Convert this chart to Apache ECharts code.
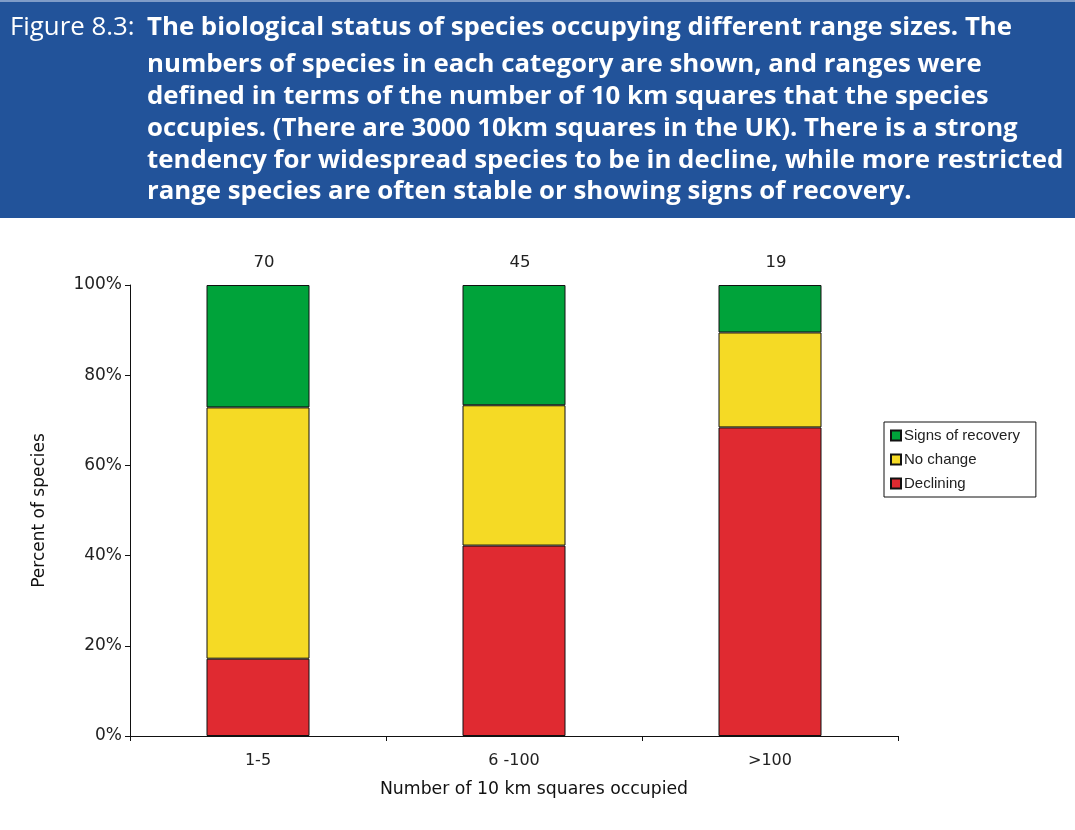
<!DOCTYPE html>
<html><head><meta charset="utf-8">
<script src="https://cdn.jsdelivr.net/npm/echarts@6/dist/echarts.min.js"></script>
<style>html,body{margin:0;padding:0;background:#fff}#c{width:1075px;height:830px}</style>
</head><body><div id="c"></div>
<script>
const categories = ['1-5', '6 -100', '>100'];
const totals = [70, 45, 19];
const declining = [12, 19, 13];
const noChange = [39, 14, 4];
const recovery = [19, 12, 2];
const yTicks = [0, 20, 40, 60, 80, 100];
const titleLabel = 'Figure 8.3:';
const titleLines = [
  'The biological status of species occupying different range sizes. The',
  'numbers of species in each category are shown, and ranges were',
  'defined in terms of the number of 10 km squares that the species',
  'occupies. (There are 3000 10km squares in the UK). There is a strong',
  'tendency for widespread species to be in decline, while more restricted',
  'range species are often stable or showing signs of recovery.'
];

const pct = (arr) => arr.map((v, i) => v / totals[i] * 100);
const TFONT = '"Open Sans", "Noto Sans", sans-serif';
const AFONT = '"DejaVu Sans", sans-serif';
const chart = echarts.init(document.getElementById('c'));
const border = { borderColor: '#111', borderWidth: 1 };
const lineY = [28, 65, 97, 129, 161, 192];
const graphics = [
  { type: 'rect', shape: { x: 0, y: 2, width: 1075, height: 216 }, style: { fill: '#22539A' } },
  { type: 'rect', shape: { x: 0, y: 0, width: 1075, height: 2 }, style: { fill: '#7f9cc8' } },
  { type: 'text', x: 10, y: lineY[0], style: { text: titleLabel, fill: '#fff', font: '25.8px ' + TFONT, verticalAlign: 'middle' } }
];
titleLines.forEach((t, i) => graphics.push({
  type: 'text', x: 147, y: lineY[i],
  style: { text: t, fill: '#fff', font: 'bold 25.8px ' + TFONT, verticalAlign: 'middle' }
}));

chart.setOption({
  animation: false,
  textStyle: { fontFamily: AFONT },
  grid: { left: 130, right: 177, top: 285, bottom: 94 },
  legend: {
    orient: 'vertical', left: 884, top: 422,
    data: ['Signs of recovery', 'No change', 'Declining'],
    itemWidth: 10, itemHeight: 10, itemGap: 9,
    borderColor: '#111', borderWidth: 1, padding: [6, 16, 6, 6],
    textStyle: { fontSize: 15, color: '#222', fontFamily: '"Liberation Sans", Arial, sans-serif', padding: [0, 0, 0, -2] },
    icon: 'rect'
  },
  xAxis: {
    type: 'category', data: categories,
    axisLine: { lineStyle: { color: '#111' } },
    axisTick: { show: true, length: 5, lineStyle: { color: '#111' } },
    axisLabel: { fontSize: 16, color: '#222', margin: 17 },
    name: 'Number of 10 km squares occupied', nameLocation: 'middle', nameGap: 45,
    nameTextStyle: { fontSize: 17.3, color: '#111', padding: [0, 0, 0, 40] }
  },
  yAxis: {
    type: 'value', min: 0, max: 100, interval: 20,
    axisLine: { show: true, lineStyle: { color: '#111' } },
    axisTick: { show: true, length: 5, lineStyle: { color: '#111' } },
    splitLine: { show: false },
    axisLabel: { fontSize: 17, color: '#222', margin: 8, formatter: v => yTicks.includes(v) ? v + '%' : '' },
    name: 'Percent of species', nameLocation: 'middle', nameGap: 82,
    nameTextStyle: { fontSize: 17, color: '#111' }
  },
  series: [
    { name: 'Declining', type: 'bar', stack: 's', barWidth: 103, data: pct(declining),
      itemStyle: Object.assign({ color: '#E02A31' }, border) },
    { name: 'No change', type: 'bar', stack: 's', data: pct(noChange),
      itemStyle: Object.assign({ color: '#F5DA25' }, border) },
    { name: 'Signs of recovery', type: 'bar', stack: 's', data: pct(recovery),
      itemStyle: Object.assign({ color: '#00A33A' }, border),
      label: { show: true, position: 'top', distance: 14, offset: [6, 0], fontSize: 16.5, color: '#222',
        formatter: p => String(totals[p.dataIndex]) } }
  ],
  graphic: graphics
});
</script></body></html>
